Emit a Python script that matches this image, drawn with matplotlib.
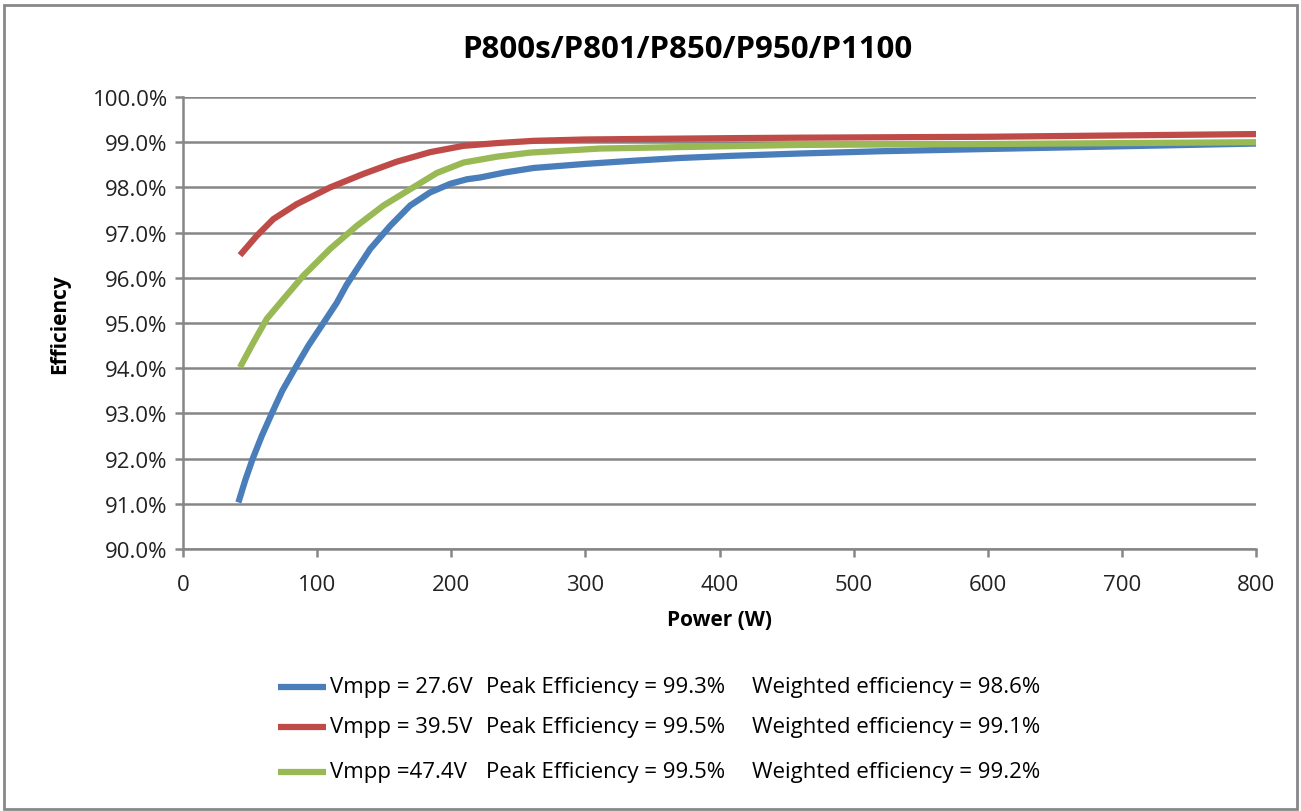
import matplotlib
matplotlib.use("Agg")
import matplotlib.pyplot as plt
from matplotlib.lines import Line2D
from matplotlib.patches import Rectangle
from matplotlib.ticker import FuncFormatter, MultipleLocator

plt.rcParams['font.family'] = ['Open Sans', 'DejaVu Sans']

title = "P800s/P801/P850/P950/P1100"
x_label = "Power (W)"
y_label = "Efficiency"

blue_power = [41.3, 46.5, 52, 58.7, 66.2, 74, 83.6, 93.5, 104.7, 114.7, 122.1, 139.6, 154.5, 169.4, 184.3, 199.3,
              211.7, 221.6, 240, 261.4, 300, 336, 370, 410.7, 460.4, 520, 600, 700, 800]
blue_eff = [91.03, 91.53, 92.0, 92.5, 93.0, 93.5, 94.0, 94.5, 95.0, 95.45, 95.85, 96.64, 97.15, 97.6, 97.89, 98.08,
            98.18, 98.22, 98.33, 98.43, 98.52, 98.59, 98.65, 98.7, 98.75, 98.8, 98.85, 98.91, 98.97]

red_power = [42.5, 55, 67.4, 84.8, 109.7, 134.6, 159.5, 184.3, 209.2, 234.1, 261.4, 300, 336, 410.7,
             460.4, 600, 700, 800]
red_eff = [96.5, 96.93, 97.3, 97.63, 98.0, 98.3, 98.57, 98.78, 98.92, 98.98, 99.03, 99.06, 99.07, 99.09,
           99.1, 99.12, 99.15, 99.18]

green_power = [42.5, 52.5, 62.4, 74.9, 89.8, 109.7, 129.6, 149.5, 169.4, 189.3, 209.2, 234.1, 259,
               311, 385.8, 460.4, 600, 700, 800]
green_eff = [94.02, 94.57, 95.09, 95.53, 96.05, 96.64, 97.15, 97.6, 97.96, 98.32, 98.55, 98.68, 98.77,
             98.86, 98.9, 98.94, 98.96, 98.98, 99.0]

series_labels = [
    ("Vmpp = 27.6V", "Peak Efficiency = 99.3%", "Weighted efficiency = 98.6%"),
    ("Vmpp = 39.5V", "Peak Efficiency = 99.5%", "Weighted efficiency = 99.1%"),
    ("Vmpp =47.4V", "Peak Efficiency = 99.5%", "Weighted efficiency = 99.2%"),
]
colors = ["#4a7ebb", "#be4b48", "#98b954"]

fig = plt.figure(figsize=(13.01, 8.12), dpi=100)
W, H = 1301, 812
ax = fig.add_axes([183 / W, 1 - 550 / H, (1256 - 183) / W, (550 - 98) / H])

grid_c = "#868686"
for p, e, c in [(blue_power, blue_eff, colors[0]), (red_power, red_eff, colors[1]), (green_power, green_eff, colors[2])]:
    ax.plot(p, e, color=c, lw=4.5, solid_capstyle='butt', solid_joinstyle='round', zorder=3)

ax.set_xlim(0, 800)
ax.set_ylim(90, 100)
ax.xaxis.set_major_locator(MultipleLocator(100))
ax.yaxis.set_major_locator(MultipleLocator(1))
ax.yaxis.set_major_formatter(FuncFormatter(lambda v, _: f"{v:.1f}%"))
ax.grid(axis='y', color=grid_c, lw=1.8, zorder=1)
for s in ['top', 'right']:
    ax.spines[s].set_visible(False)
for s in ['left', 'bottom']:
    ax.spines[s].set_color(grid_c)
    ax.spines[s].set_linewidth(1.8)
ax.tick_params(axis='both', colors=grid_c, width=1.8, length=6, labelsize=16, labelcolor='#222222')
ax.tick_params(axis='x', pad=12)
ax.tick_params(axis='y', pad=5)

ax.set_xlabel(x_label, fontsize=15, fontweight='bold', labelpad=10)
ax.set_ylabel(y_label, fontsize=15, fontweight='bold', labelpad=16)

fig.text(687 / W, 1 - 50 / H, title, ha='center', va='center', fontsize=22.5, fontweight='bold')

rows_y = [688, 728, 773]
for (a, b, c), col, y in zip(series_labels, colors, rows_y):
    fig.add_artist(Line2D([278 / W, 326 / W], [1 - y / H, 1 - y / H], color=col, lw=4.5, solid_capstyle='butt'))
    fig.text(330 / W, 1 - y / H, a, ha='left', va='center', fontsize=16)
    fig.text(486 / W, 1 - y / H, b, ha='left', va='center', fontsize=16)
    fig.text(752 / W, 1 - y / H, c, ha='left', va='center', fontsize=16)

fig.add_artist(Rectangle((4 / W, 2 / H), 1293 / W, 804 / H, fill=False, edgecolor='#888888', lw=2, transform=fig.transFigure))

fig.savefig("out.png", dpi=100)
